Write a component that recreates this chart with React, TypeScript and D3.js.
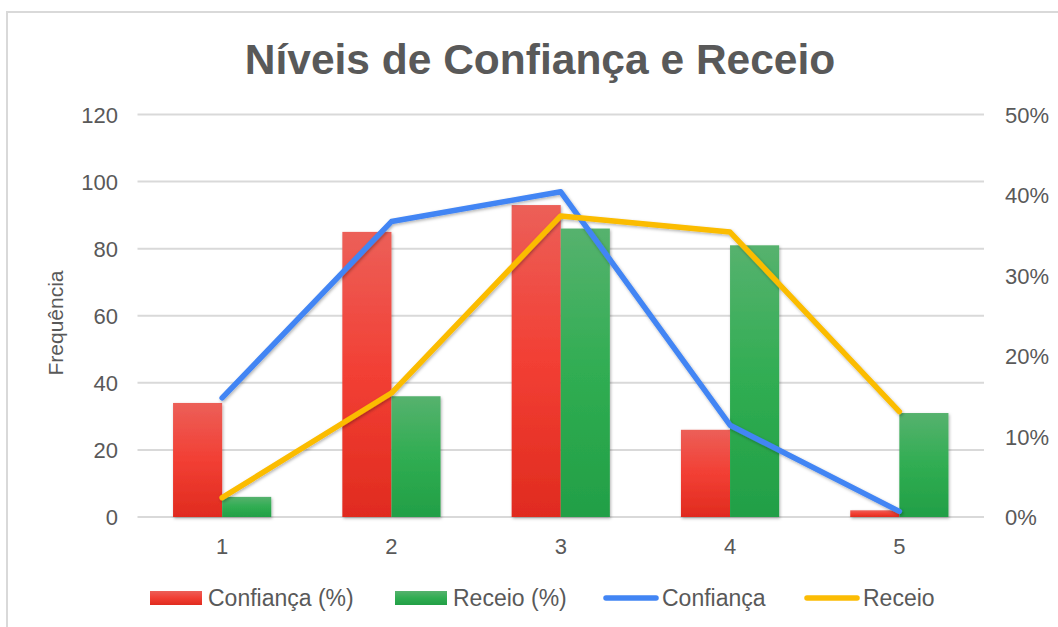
import * as d3 from 'd3'
import React from 'react'

// niveis 1..5
const categories = ['1', '2', '3', '4', '5']
// barras (eixo esquerdo, frequência)
const confiancaBar = [34, 85, 93, 26, 2]
const receioBar = [6, 36, 86, 81, 31]
// linhas (eixo direito, %)
const confiancaLine = [0.148, 0.367, 0.404, 0.114, 0.007]
const receioLine = [0.024, 0.154, 0.374, 0.354, 0.131]
const leftTicks = [0, 20, 40, 60, 80, 100, 120]
const rightTicks = [0, 0.1, 0.2, 0.3, 0.4, 0.5]

const W = 1058
const H = 627
const FONT = '"Liberation Sans", Arial, sans-serif'
const TXT = '#595959'
const GRID = '#d9d9d9'
const BLUE = '#4285f4'
const YELLOW = '#fbbc04'

export default function App() {
  const left = 137.5
  const right = 984
  const top = 114.5
  const bottom = 517

  const x = d3.scaleBand().domain(categories).range([left, right]).paddingInner(0.42).paddingOuter(0.21)
  const sub = d3.scaleBand().domain(['c', 'r']).range([0, x.bandwidth()])
  const yL = d3.scaleLinear().domain([0, 120]).range([bottom, top])
  const yR = d3.scaleLinear().domain([0, 0.5]).range([bottom, top])
  const cx = (c: string) => (x(c) as number) + x.bandwidth() / 2

  const line = d3.line<number>()
    .x((_, i) => cx(categories[i]))
    .y(d => yR(d))

  const pctFmt = d3.format('.0%')

  const legend = [
    { label: 'Confiança (%)', type: 'bar', fill: 'url(#gRed)', x: 150 },
    { label: 'Receio (%)', type: 'bar', fill: 'url(#gGreen)', x: 395 },
    { label: 'Confiança', type: 'line', fill: BLUE, x: 604 },
    { label: 'Receio', type: 'line', fill: YELLOW, x: 805 },
  ]

  return (
    <svg width={W} height={H} style={{ position: 'absolute', left: 0, top: 0, background: '#fff' }} fontFamily={FONT}>
      <defs>
        <linearGradient id="gRed" x1="0" y1="0" x2="0" y2="1">
          <stop offset="0" stopColor="#ec5f58" />
          <stop offset="0.5" stopColor="#f23f34" />
          <stop offset="1" stopColor="#e02b1f" />
        </linearGradient>
        <linearGradient id="gGreen" x1="0" y1="0" x2="0" y2="1">
          <stop offset="0" stopColor="#56b26e" />
          <stop offset="0.5" stopColor="#30ad52" />
          <stop offset="1" stopColor="#229f46" />
        </linearGradient>
        <filter id="shadow" x="-20%" y="-20%" width="140%" height="140%">
          <feDropShadow dx="1" dy="1.5" stdDeviation="1.5" floodColor="#000" floodOpacity="0.3" />
        </filter>
      </defs>

      <rect x={7} y={12} width={W + 10} height={H + 10} fill="#fff" stroke={GRID} strokeWidth={2} />

      <text x={540} y={74} textAnchor="middle" fontSize={42.5} fontWeight="bold" fill={TXT}>
        Níveis de Confiança e Receio
      </text>

      {leftTicks.map(t => (
        <g key={t}>
          <line x1={left} x2={right} y1={yL(t)} y2={yL(t)} stroke={GRID} strokeWidth={2} />
          <text x={118} y={yL(t) + 8} textAnchor="end" fontSize={22} fill={TXT}>{t}</text>
        </g>
      ))}
      {rightTicks.map(t => (
        <text key={t} x={1005} y={yR(t) + 8} fontSize={22} fill={TXT}>{pctFmt(t)}</text>
      ))}

      <text transform={`translate(63,323) rotate(-90)`} textAnchor="middle" fontSize={21} fill={TXT}>Frequência</text>

      {categories.map(c => (
        <text key={c} x={cx(c)} y={554} textAnchor="middle" fontSize={22} fill={TXT}>{c}</text>
      ))}

      <g filter="url(#shadow)">
        {categories.map((c, i) => (
          <g key={c}>
            <rect x={(x(c) as number) + (sub('c') as number)} y={yL(confiancaBar[i])} width={sub.bandwidth()}
              height={yL(0) - yL(confiancaBar[i])} fill="url(#gRed)" />
            <rect x={(x(c) as number) + (sub('r') as number)} y={yL(receioBar[i])} width={sub.bandwidth()}
              height={yL(0) - yL(receioBar[i])} fill="url(#gGreen)" />
          </g>
        ))}
      </g>

      <g filter="url(#shadow)" fill="none" strokeWidth={5.5} strokeLinecap="round" strokeLinejoin="round">
        <path d={line(confiancaLine) || ''} stroke={BLUE} />
        <path d={line(receioLine) || ''} stroke={YELLOW} />
      </g>

      {legend.map(l => (
        <g key={l.label}>
          {l.type === 'bar'
            ? <rect x={l.x} y={591} width={52} height={14} fill={l.fill} />
            : <line x1={l.x + 2} x2={l.x + 52} y1={598} y2={598} stroke={l.fill} strokeWidth={5.5} strokeLinecap="round" />}
          <text x={l.x + 58} y={605.5} fontSize={23} fill={TXT}>{l.label}</text>
        </g>
      ))}
    </svg>
  )
}
